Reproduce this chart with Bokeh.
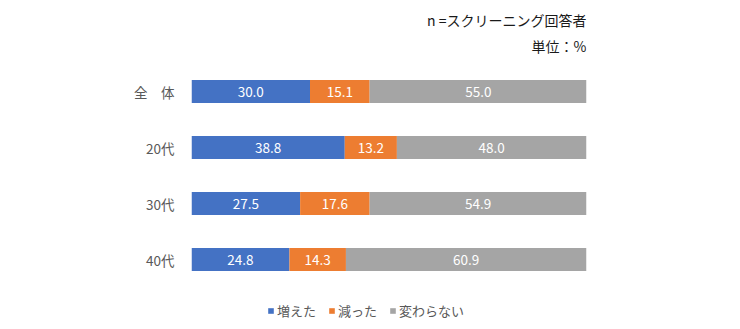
from bokeh.plotting import figure
from bokeh.models import ColumnDataSource, Label, Legend, LegendItem, Range1d, FixedTicker
from bokeh.core.properties import value
from bokeh.embed import file_html
from bokeh.resources import INLINE

categories = ["全　体", "20代", "30代", "40代"]
increased = [30.0, 38.8, 27.5, 24.8]
decreased = [15.1, 13.2, 17.6, 14.3]
unchanged = [55.0, 48.0, 54.9, 60.9]
series = ["増えた", "減った", "変わらない"]
colors = ["#4472C4", "#ED7D31", "#A5A5A5"]
note_n = "n =スクリーニング回答者"
note_unit = "単位：%"

FONT = "Noto Sans CJK JP"
n = len(categories)
ypos = [n - i - 0.5 for i in range(n)]

data = {"y": ypos, series[0]: increased, series[1]: decreased, series[2]: unchanged}
source = ColumnDataSource(data)

p = figure(width=740, height=329, output_backend="svg", toolbar_location=None,
           x_range=Range1d(0, 100), y_range=Range1d(-0.75, n + 1.125),
           min_border_left=191, min_border_right=154, min_border_top=0, min_border_bottom=0)
p.outline_line_color = None
p.xgrid.visible = False
p.ygrid.visible = False
p.xaxis.visible = False
p.yaxis.ticker = FixedTicker(ticks=ypos)
p.yaxis.major_label_overrides = {y: c for y, c in zip(ypos, categories)}
p.yaxis.axis_line_color = None
p.yaxis.major_tick_line_color = None
p.yaxis.minor_tick_line_color = None
p.yaxis.major_label_text_font = FONT
p.yaxis.major_label_text_font_size = "13.5px"
p.yaxis.major_label_text_color = "#595959"
p.yaxis.major_label_standoff = 11

renderers = p.hbar_stack(series, y="y", height=0.41, color=colors, source=source, line_color=None)

# data labels at segment centres
xs, ys, ts = [], [], []
for i in range(n):
    vals = [increased[i], decreased[i], unchanged[i]]
    left = 0.0
    for v in vals:
        xs.append(left + v / 2)
        ys.append(ypos[i])
        ts.append(f"{v:.1f}")
        left += v
lab = ColumnDataSource(dict(x=xs, y=ys, t=ts))
p.text(x="x", y="y", text="t", source=lab, text_align="center", text_baseline="middle",
       text_color="white", text_font=value(FONT), text_font_size="13.5px")

for txt, yy in [(note_n, n + 0.768), (note_unit, n + 0.32)]:
    p.add_layout(Label(x=100, y=yy, text=txt, text_align="right", text_baseline="middle",
                       text_font=FONT, text_font_size="14px", text_color="#1a1a1a"))

legend = Legend(items=[LegendItem(label=s, renderers=[r]) for s, r in zip(series, renderers)],
                orientation="horizontal", location=(76, 9), glyph_width=7, glyph_height=7,
                label_standoff=3, spacing=12, padding=0, margin=0, border_line_color=None,
                background_fill_alpha=0, label_text_font=FONT, label_text_font_size="13px",
                label_text_color="#595959", label_height=14)
p.add_layout(legend)

open("out.html", "w").write(file_html(p, INLINE))
